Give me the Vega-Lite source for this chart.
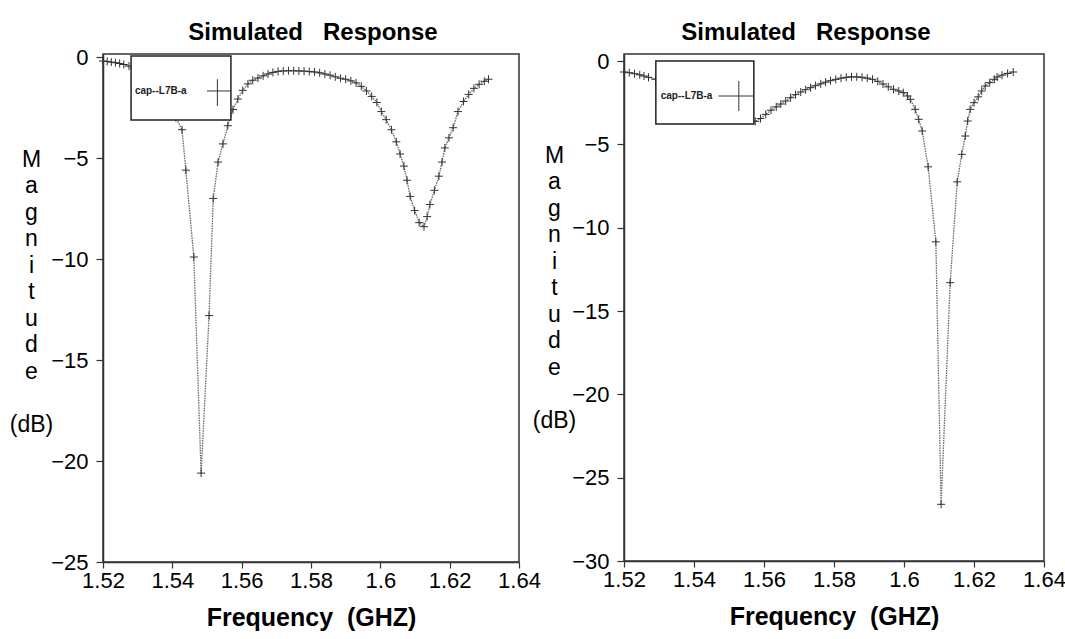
{
  "$schema": "https://vega.github.io/schema/vega-lite/v6.json",
  "background": "white",
  "padding": {"left": 8, "top": 20, "right": 1, "bottom": 1},
  "bounds": "flush",
  "spacing": 105,
  "config": {
    "font": "Liberation Sans",
    "view": {"stroke": "#333", "strokeWidth": 1.5},
    "axis": {
      "grid": false,
      "domainColor": "#333",
      "domainWidth": 1.5,
      "tickColor": "#333",
      "tickWidth": 1.2,
      "labelFont": "Liberation Sans",
      "labelFontSize": 22,
      "labelColor": "black",
      "labelFlush": false,
      "labelOverlap": false,
      "titleFont": "Liberation Sans",
      "titleColor": "black"
    },
    "title": {"font": "Liberation Sans", "fontSize": 24, "fontWeight": "bold", "color": "black", "anchor": "middle", "baseline": "alphabetic", "frame": "group", "offset": 1}
  },
  "datasets": {
    "left": [
      {"f": 1.5200, "dB": -0.20}, {"f": 1.5212, "dB": -0.22}, {"f": 1.5224, "dB": -0.25}, {"f": 1.5236, "dB": -0.28},
      {"f": 1.5248, "dB": -0.32}, {"f": 1.5260, "dB": -0.37}, {"f": 1.5275, "dB": -0.45}, {"f": 1.5290, "dB": -0.55},
      {"f": 1.5305, "dB": -0.68}, {"f": 1.5320, "dB": -0.85}, {"f": 1.5335, "dB": -1.05}, {"f": 1.5350, "dB": -1.30},
      {"f": 1.5365, "dB": -1.62}, {"f": 1.5380, "dB": -2.00}, {"f": 1.5395, "dB": -2.50}, {"f": 1.5410, "dB": -3.00},
      {"f": 1.5428, "dB": -3.60}, {"f": 1.5439, "dB": -5.60}, {"f": 1.5462, "dB": -9.90}, {"f": 1.5483, "dB": -20.60},
      {"f": 1.5506, "dB": -12.80}, {"f": 1.5518, "dB": -7.00}, {"f": 1.5532, "dB": -5.20}, {"f": 1.5546, "dB": -4.30},
      {"f": 1.5560, "dB": -3.40}, {"f": 1.5575, "dB": -2.60}, {"f": 1.5589, "dB": -2.08}, {"f": 1.5603, "dB": -1.65},
      {"f": 1.5618, "dB": -1.33}, {"f": 1.5632, "dB": -1.15}, {"f": 1.5647, "dB": -1.04}, {"f": 1.5662, "dB": -0.93},
      {"f": 1.5676, "dB": -0.84}, {"f": 1.5690, "dB": -0.76}, {"f": 1.5705, "dB": -0.71}, {"f": 1.5720, "dB": -0.69},
      {"f": 1.5735, "dB": -0.68}, {"f": 1.5750, "dB": -0.68}, {"f": 1.5765, "dB": -0.69}, {"f": 1.5780, "dB": -0.70},
      {"f": 1.5795, "dB": -0.72}, {"f": 1.5810, "dB": -0.74}, {"f": 1.5825, "dB": -0.78}, {"f": 1.5840, "dB": -0.84},
      {"f": 1.5855, "dB": -0.90}, {"f": 1.5870, "dB": -0.98}, {"f": 1.5885, "dB": -1.05}, {"f": 1.5900, "dB": -1.10},
      {"f": 1.5915, "dB": -1.18}, {"f": 1.5930, "dB": -1.28}, {"f": 1.5945, "dB": -1.45}, {"f": 1.5960, "dB": -1.68},
      {"f": 1.5975, "dB": -1.95}, {"f": 1.5990, "dB": -2.25}, {"f": 1.6003, "dB": -2.70}, {"f": 1.6017, "dB": -3.10},
      {"f": 1.6032, "dB": -3.60}, {"f": 1.6046, "dB": -4.20}, {"f": 1.6057, "dB": -4.80}, {"f": 1.6068, "dB": -5.40},
      {"f": 1.6077, "dB": -6.10}, {"f": 1.6086, "dB": -6.90}, {"f": 1.6099, "dB": -7.60}, {"f": 1.6112, "dB": -8.20},
      {"f": 1.6126, "dB": -8.40}, {"f": 1.6135, "dB": -7.90}, {"f": 1.6143, "dB": -7.30}, {"f": 1.6156, "dB": -6.60},
      {"f": 1.6169, "dB": -5.90}, {"f": 1.6178, "dB": -5.20}, {"f": 1.6186, "dB": -4.50}, {"f": 1.6198, "dB": -4.00},
      {"f": 1.6210, "dB": -3.50}, {"f": 1.6224, "dB": -2.70}, {"f": 1.6240, "dB": -2.20}, {"f": 1.6255, "dB": -1.85},
      {"f": 1.6270, "dB": -1.55}, {"f": 1.6285, "dB": -1.35}, {"f": 1.6300, "dB": -1.20}, {"f": 1.6312, "dB": -1.10}
    ],
    "right": [
      {"f": 1.5200, "dB": -0.66}, {"f": 1.5215, "dB": -0.70}, {"f": 1.5230, "dB": -0.76}, {"f": 1.5245, "dB": -0.83},
      {"f": 1.5257, "dB": -0.90}, {"f": 1.5270, "dB": -0.98}, {"f": 1.5290, "dB": -1.10}, {"f": 1.5310, "dB": -1.25},
      {"f": 1.5330, "dB": -1.40}, {"f": 1.5350, "dB": -1.60}, {"f": 1.5370, "dB": -1.80}, {"f": 1.5390, "dB": -2.00},
      {"f": 1.5410, "dB": -2.25}, {"f": 1.5430, "dB": -2.50}, {"f": 1.5450, "dB": -2.75}, {"f": 1.5470, "dB": -3.00},
      {"f": 1.5490, "dB": -3.20}, {"f": 1.5510, "dB": -3.40}, {"f": 1.5530, "dB": -3.50}, {"f": 1.5550, "dB": -3.58},
      {"f": 1.5575, "dB": -3.62}, {"f": 1.5590, "dB": -3.45}, {"f": 1.5605, "dB": -3.20}, {"f": 1.5620, "dB": -2.95},
      {"f": 1.5635, "dB": -2.75}, {"f": 1.5648, "dB": -2.58}, {"f": 1.5662, "dB": -2.40}, {"f": 1.5676, "dB": -2.20},
      {"f": 1.5690, "dB": -2.02}, {"f": 1.5705, "dB": -1.86}, {"f": 1.5719, "dB": -1.72}, {"f": 1.5733, "dB": -1.60},
      {"f": 1.5747, "dB": -1.48}, {"f": 1.5762, "dB": -1.37}, {"f": 1.5776, "dB": -1.27}, {"f": 1.5790, "dB": -1.18},
      {"f": 1.5805, "dB": -1.10}, {"f": 1.5820, "dB": -1.03}, {"f": 1.5835, "dB": -0.98}, {"f": 1.5850, "dB": -0.95},
      {"f": 1.5865, "dB": -0.95}, {"f": 1.5880, "dB": -0.98}, {"f": 1.5895, "dB": -1.03}, {"f": 1.5910, "dB": -1.10},
      {"f": 1.5925, "dB": -1.22}, {"f": 1.5940, "dB": -1.38}, {"f": 1.5955, "dB": -1.55}, {"f": 1.5970, "dB": -1.70},
      {"f": 1.5985, "dB": -1.80}, {"f": 1.5998, "dB": -1.90}, {"f": 1.6010, "dB": -2.10}, {"f": 1.6018, "dB": -2.30},
      {"f": 1.6032, "dB": -2.90}, {"f": 1.6042, "dB": -3.50}, {"f": 1.6052, "dB": -4.20}, {"f": 1.6069, "dB": -6.35},
      {"f": 1.6091, "dB": -10.85}, {"f": 1.6106, "dB": -26.60}, {"f": 1.6132, "dB": -13.30}, {"f": 1.6152, "dB": -7.25},
      {"f": 1.6165, "dB": -5.60}, {"f": 1.6175, "dB": -4.50}, {"f": 1.6182, "dB": -3.60}, {"f": 1.6189, "dB": -2.90},
      {"f": 1.6200, "dB": -2.50}, {"f": 1.6212, "dB": -2.15}, {"f": 1.6222, "dB": -1.80}, {"f": 1.6232, "dB": -1.50},
      {"f": 1.6245, "dB": -1.30}, {"f": 1.6258, "dB": -1.10}, {"f": 1.6266, "dB": -0.96}, {"f": 1.6280, "dB": -0.85},
      {"f": 1.6296, "dB": -0.75}, {"f": 1.6312, "dB": -0.66}
    ]
  },
  "hconcat": [
    {
      "width": 416,
      "height": 508,
      "title": {"text": "Simulated\u00a0\u00a0\u00a0Response", "dx": 2},
      "layer": [
        {
          "data": {"name": "left"},
          "mark": {"type": "line", "color": "#666", "strokeWidth": 1.3, "strokeDash": [1.5, 1]},
          "encoding": {
            "x": {
              "field": "f", "type": "quantitative",
              "scale": {"domain": [1.52, 1.64], "nice": false, "zero": false},
              "axis": {
                "values": [1.52, 1.54, 1.56, 1.58, 1.6, 1.62, 1.64], "format": "~g",
                "tickSize": 6, "labelPadding": 2,
                "title": "Frequency\u00a0\u00a0(GHZ)", "titleFontSize": 25, "titleFontWeight": "bold", "titlePadding": 14
              }
            },
            "y": {
              "field": "dB", "type": "quantitative",
              "scale": {"domain": [-25, 0.15], "nice": false, "zero": false},
              "axis": {
                "values": [0, -5, -10, -15, -20, -25],
                "tickSize": 7, "labelPadding": 8,
                "title": ["M", "a", "g", "n", "i", "t", "u", "d", "e", "\u2800", "(dB)"],
                "titleAngle": 0, "titleAlign": "center", "titleBaseline": "alphabetic",
                "titleX": -72, "titleY": 112, "titleFontSize": 23, "titleFontWeight": "normal", "titleLineHeight": 26.5
              }
            }
          }
        },
        {
          "data": {"name": "left"},
          "mark": {"type": "point", "shape": "M-1,0H1M0,-1V1", "size": 64, "filled": false, "stroke": "#333", "strokeWidth": 1, "opacity": 1},
          "encoding": {
            "x": {"field": "f", "type": "quantitative", "scale": {"domain": [1.52, 1.64], "nice": false, "zero": false}},
            "y": {"field": "dB", "type": "quantitative", "scale": {"domain": [-25, 0.15], "nice": false, "zero": false}}
          }
        },
        {
          "data": {"values": [{"legend": "box"}]},
          "mark": {"type": "rect", "fill": "white", "stroke": "#222", "strokeWidth": 1.5},
          "encoding": {
            "x": {"datum": 1.5281, "type": "quantitative"},
            "x2": {"datum": 1.5569},
            "y": {"datum": 0.05, "type": "quantitative"},
            "y2": {"datum": -3.12}
          }
        },
        {
          "data": {"values": [{"legend": "cap--L7B-a"}]},
          "mark": {"type": "text", "align": "left", "baseline": "middle", "fontSize": 10, "fontWeight": "bold", "color": "#222"},
          "encoding": {
            "x": {"datum": 1.5292, "type": "quantitative"},
            "y": {"datum": -1.68, "type": "quantitative"},
            "text": {"field": "legend"}
          }
        },
        {
          "data": {"values": [{"legend": "line"}]},
          "mark": {"type": "rule", "color": "#333", "strokeWidth": 1},
          "encoding": {
            "x": {"datum": 1.5500, "type": "quantitative"},
            "x2": {"datum": 1.5569},
            "y": {"datum": -1.68, "type": "quantitative"}
          }
        },
        {
          "data": {"values": [{"legend": "marker"}]},
          "mark": {"type": "rule", "color": "#333", "strokeWidth": 1},
          "encoding": {
            "x": {"datum": 1.5530, "type": "quantitative"},
            "y": {"datum": -1.1, "type": "quantitative"},
            "y2": {"datum": -2.42}
          }
        }
      ]
    },
    {
      "width": 420,
      "height": 507,
      "title": {"text": "Simulated\u00a0\u00a0\u00a0Response", "dx": -28, "dy": -4},
      "layer": [
        {
          "data": {"name": "right"},
          "mark": {"type": "line", "color": "#666", "strokeWidth": 1.3, "strokeDash": [1.5, 1]},
          "encoding": {
            "x": {
              "field": "f", "type": "quantitative",
              "scale": {"domain": [1.52, 1.64], "nice": false, "zero": false},
              "axis": {
                "values": [1.52, 1.54, 1.56, 1.58, 1.6, 1.62, 1.64], "format": "~g",
                "tickSize": 6, "labelPadding": 2,
                "title": "Frequency\u00a0\u00a0(GHZ)", "titleFontSize": 25, "titleFontWeight": "bold", "titlePadding": 14
              }
            },
            "y": {
              "field": "dB", "type": "quantitative",
              "scale": {"domain": [-30, 0.42], "nice": false, "zero": false},
              "axis": {
                "values": [0, -5, -10, -15, -20, -25, -30],
                "tickSize": 7, "labelPadding": 8,
                "title": ["M", "a", "g", "n", "i", "t", "u", "d", "e", "\u2800", "(dB)"],
                "titleAngle": 0, "titleAlign": "center", "titleBaseline": "alphabetic",
                "titleX": -70, "titleY": 108, "titleFontSize": 23, "titleFontWeight": "normal", "titleLineHeight": 26.5
              }
            }
          }
        },
        {
          "data": {"name": "right"},
          "mark": {"type": "point", "shape": "M-1,0H1M0,-1V1", "size": 64, "filled": false, "stroke": "#333", "strokeWidth": 1, "opacity": 1},
          "encoding": {
            "x": {"field": "f", "type": "quantitative", "scale": {"domain": [1.52, 1.64], "nice": false, "zero": false}},
            "y": {"field": "dB", "type": "quantitative", "scale": {"domain": [-30, 0.42], "nice": false, "zero": false}}
          }
        },
        {
          "data": {"values": [{"legend": "box"}]},
          "mark": {"type": "rect", "fill": "white", "stroke": "#222", "strokeWidth": 1.5},
          "encoding": {
            "x": {"datum": 1.5291, "type": "quantitative"},
            "x2": {"datum": 1.5571},
            "y": {"datum": 0.0, "type": "quantitative"},
            "y2": {"datum": -3.78}
          }
        },
        {
          "data": {"values": [{"legend": "cap--L7B-a"}]},
          "mark": {"type": "text", "align": "left", "baseline": "middle", "fontSize": 10, "fontWeight": "bold", "color": "#222"},
          "encoding": {
            "x": {"datum": 1.5305, "type": "quantitative"},
            "y": {"datum": -2.1, "type": "quantitative"},
            "text": {"field": "legend"}
          }
        },
        {
          "data": {"values": [{"legend": "line"}]},
          "mark": {"type": "rule", "color": "#333", "strokeWidth": 1},
          "encoding": {
            "x": {"datum": 1.5470, "type": "quantitative"},
            "x2": {"datum": 1.5571},
            "y": {"datum": -2.1, "type": "quantitative"}
          }
        },
        {
          "data": {"values": [{"legend": "marker"}]},
          "mark": {"type": "rule", "color": "#333", "strokeWidth": 1},
          "encoding": {
            "x": {"datum": 1.5528, "type": "quantitative"},
            "y": {"datum": -1.2, "type": "quantitative"},
            "y2": {"datum": -3.0}
          }
        }
      ]
    }
  ]
}
